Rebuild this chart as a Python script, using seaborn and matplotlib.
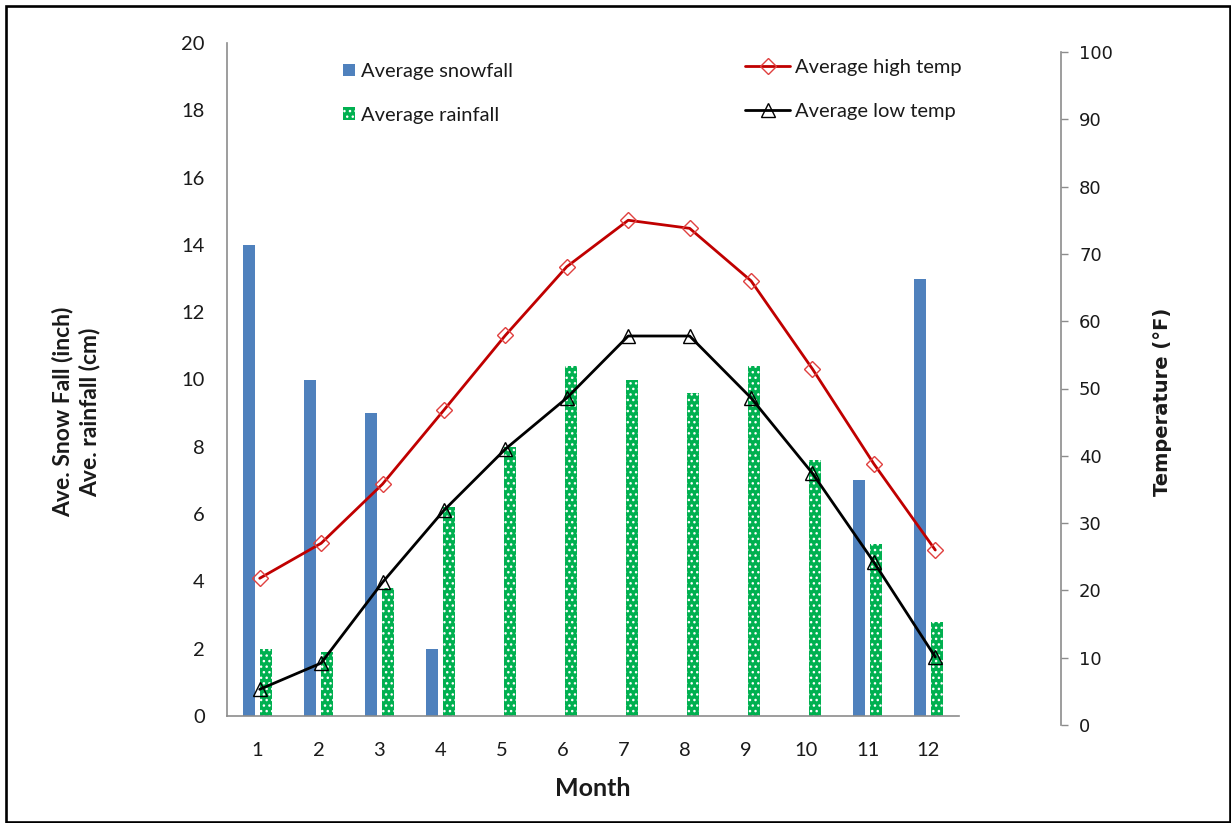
import numpy as np
import pandas as pd
import matplotlib
matplotlib.use("Agg")
import matplotlib.pyplot as plt
from matplotlib.patches import Patch, Rectangle
from matplotlib.lines import Line2D
import seaborn as sns

# ---- data ----
months = [str(m) for m in range(1, 13)]
snowfall = [14, 10, 9, 2, 0, 0, 0, 0, 0, 0, 7, 13]
rainfall = [2.0, 1.9, 3.8, 6.2, 8.0, 10.4, 10.0, 9.6, 10.4, 7.6, 5.1, 2.8]
high_temp = [21.8, 27.0, 35.8, 46.8, 57.9, 68.1, 75.0, 73.8, 66.0, 52.9, 38.8, 26.0]
low_temp = [5.3, 9.2, 21.2, 31.9, 41.0, 48.6, 57.8, 57.8, 48.6, 37.4, 24.2, 10.1]
left_ticks = list(range(0, 21, 2))
right_ticks = list(range(0, 101, 10))

sns.set_style("white")
plt.rcParams['font.family'] = ['Lato', 'DejaVu Sans']
plt.rcParams['hatch.linewidth'] = 1.0

W, H = 1231, 823
fig = plt.figure(figsize=(W / 100, H / 100), dpi=100)

def fx(px):
    return px / W

def fy(py):
    return 1 - py / H

axis_gray = '#8c8c8c'
text_col = '#1a1a1a'
rain_hatch = '...'

# primary axes (bars)
ax1 = fig.add_axes([fx(227), fy(716), fx(959) - fx(227), fy(43) - fy(716)])
bar_df = pd.DataFrame({
    'Month': months * 2,
    'value': snowfall + rainfall,
    'series': ['Average snowfall'] * 12 + ['Average rainfall'] * 12,
})
sns.barplot(data=bar_df, x='Month', y='value', hue='series', ax=ax1,
            palette={'Average snowfall': '#4F81BD', 'Average rainfall': '#00B050'},
            width=0.56, gap=0.35, legend=False, errorbar=None,
            saturation=1, linewidth=0)
for p in ax1.containers[1]:
    p.set_hatch(rain_hatch)
    p.set_edgecolor('white')
    p.set_linewidth(0)

ax1.set_xlim(-0.5, 11.5)
ax1.set_ylim(0, 20)
ax1.set_yticks(left_ticks)
ax1.set_xticks(np.arange(-0.5, 12, 1), minor=True)
ax1.tick_params(axis='x', which='major', length=0, pad=19, labelsize=14.5, labelcolor=text_col)
ax1.tick_params(axis='x', which='minor', length=6, width=1, color=axis_gray, direction='out')
ax1.tick_params(axis='y', length=6, width=1, color=axis_gray, direction='out', pad=10,
                labelsize=14.5, labelcolor=text_col)
for s in ['top', 'right']:
    ax1.spines[s].set_visible(False)
for s in ['left', 'bottom']:
    ax1.spines[s].set_color(axis_gray)
    ax1.spines[s].set_linewidth(1.2)
ax1.set_xlabel('Month', fontsize=18, fontweight='bold', color=text_col, labelpad=13)
ax1.set_ylabel('')

# secondary axes (temperatures)
x0, x1 = 229, 966
ax2 = fig.add_axes([fx(x0), fy(725), fx(x1) - fx(x0), fy(52) - fy(725)])
ax2.patch.set_alpha(0)
pos = np.arange(12)
sns.lineplot(x=pos, y=high_temp, ax=ax2, color='#C00000', linewidth=2.0,
             marker='D', markersize=8, markerfacecolor='none',
             markeredgecolor='#E0403F', markeredgewidth=1.0)
sns.lineplot(x=pos, y=low_temp, ax=ax2, color='black', linewidth=2.0,
             marker='^', markersize=10, markerfacecolor='none',
             markeredgecolor='black', markeredgewidth=1.0)
ax2.set_xlim(-0.5, 11.5)
ax2.set_ylim(0, 100)
ax2.set_xticks([])
ax2.set_yticks(right_ticks)
for s in ['top', 'left', 'bottom']:
    ax2.spines[s].set_visible(False)
ax2.spines['right'].set_position(('axes', (1061 - x0) / (x1 - x0)))
ax2.spines['right'].set_color(axis_gray)
ax2.spines['right'].set_linewidth(1.2)
ax2.yaxis.tick_right()
ax2.tick_params(axis='y', length=5, width=1, color=axis_gray, direction='out', pad=8,
                labelsize=13, labelcolor=text_col, labelfontfamily='DejaVu Sans')
ax2.set_xlabel('')
ax2.set_ylabel('')
ax2.grid(False)

# axis titles
fig.text(fx(76), fy(412), 'Ave. Snow Fall (inch)\nAve. rainfall (cm)', rotation=90,
         ha='center', va='center', multialignment='center', fontsize=16.5,
         fontweight='bold', color=text_col, linespacing=1.3)
fig.text(fx(1163), fy(402), 'Temperature (°F)', rotation=90, ha='center', va='center',
         fontsize=14, fontweight='bold', color=text_col, family='DejaVu Sans')

# legends
h_bar = [Patch(facecolor='#4F81BD', edgecolor='none'),
         Patch(facecolor='#00B050', edgecolor='white', hatch=rain_hatch, linewidth=0)]
leg1 = fig.legend(h_bar, ['Average snowfall', 'Average rainfall'], loc='upper left',
                  bbox_to_anchor=(fx(343), fy(63)), frameon=False, fontsize=14.5,
                  handlelength=0.6, handleheight=0.6, handletextpad=0.3,
                  labelspacing=1.33, borderpad=0, borderaxespad=0)
h_line = [Line2D([], [], color='#C00000', lw=2.0, marker='D', ms=8, mfc='none',
                 mec='#E0403F', mew=1.0),
          Line2D([], [], color='black', lw=2.0, marker='^', ms=10, mfc='none',
                 mec='black', mew=1.0)]
leg2 = fig.legend(h_line, ['Average high temp', 'Average low temp'], loc='upper left',
                  bbox_to_anchor=(fx(745), fy(59)), frameon=False, fontsize=14.5,
                  handlelength=2.25, handletextpad=0.25, labelspacing=1.33,
                  borderpad=0, borderaxespad=0)
for t in leg1.get_texts() + leg2.get_texts():
    t.set_color(text_col)

# outer frame
fig.patches.append(Rectangle((fx(5.5), fy(821.5)), fx(1229.5) - fx(5.5), fy(6) - fy(821.5),
                             transform=fig.transFigure, fill=False, edgecolor='black',
                             linewidth=1.9))

fig.savefig('out.png', dpi=100)
